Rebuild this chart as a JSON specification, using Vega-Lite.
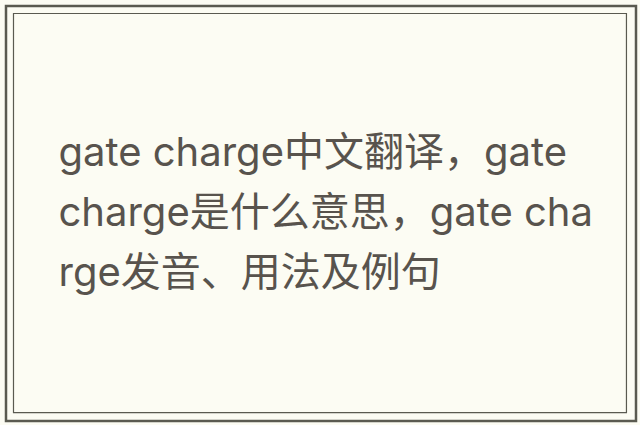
{
  "$schema": "https://vega.github.io/schema/vega-lite/v6.json",
  "autosize": {"type": "none"},
  "padding": {"left": 6, "top": 6, "right": 4, "bottom": 4},
  "width": 630,
  "height": 415,
  "background": "#fcfcf3",
  "view": {"stroke": "#5a5a50", "strokeWidth": 2.5, "fill": "#fcfcf3"},
  "layer": [
    {
      "data": {"values": [{"frame": "inner"}]},
      "mark": {"type": "rect", "fill": null, "stroke": "#5a5a50", "strokeWidth": 1.2},
      "encoding": {
        "x": {
          "field": "frame",
          "type": "nominal",
          "axis": null,
          "scale": {"paddingInner": 0, "paddingOuter": 0.0139, "align": 0.44}
        },
        "y": {
          "field": "frame",
          "type": "nominal",
          "axis": null,
          "scale": {"paddingInner": 0, "paddingOuter": 0.02, "align": 0.47}
        }
      }
    },
    {
      "data": {
        "values": [
          {"line": 1, "text": "gate charge中文翻译，gate"},
          {"line": 2, "text": "charge是什么意思，gate cha"},
          {"line": 3, "text": "rge发音、用法及例句"}
        ]
      },
      "mark": {
        "type": "text",
        "align": "left",
        "baseline": "alphabetic",
        "dx": 45,
        "font": "Inter, Noto Sans CJK SC",
        "fontSize": 40,
        "color": "#58534d"
      },
      "encoding": {
        "x": {"datum": "inner", "type": "nominal", "bandPosition": 0},
        "y": {
          "field": "line",
          "type": "quantitative",
          "axis": null,
          "scale": {"domain": [-1.6667, 5.25], "reverse": true, "nice": false, "zero": false}
        },
        "text": {"field": "text"}
      }
    }
  ],
  "resolve": {"scale": {"y": "independent"}}
}
